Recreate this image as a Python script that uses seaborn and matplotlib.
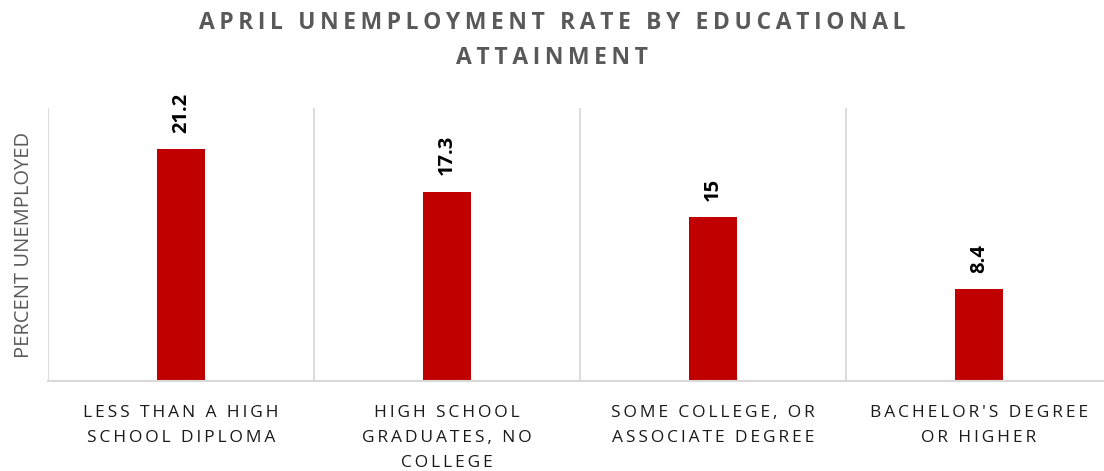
import matplotlib
matplotlib.use("Agg")
import matplotlib.pyplot as plt
import seaborn as sns
import pandas as pd

categories = [
    "LESS THAN A HIGH\nSCHOOL DIPLOMA",
    "HIGH SCHOOL\nGRADUATES, NO\nCOLLEGE",
    "SOME COLLEGE, OR\nASSOCIATE DEGREE",
    "BACHELOR'S DEGREE\nOR HIGHER",
]
values = [21.2, 17.3, 15, 8.4]
value_labels = ["21.2", "17.3", "15", "8.4"]
title = "APRIL UNEMPLOYMENT RATE BY EDUCATIONAL\nATTAINMENT"
ylabel = "PERCENT UNEMPLOYED"

sns.set_theme(style="white")
plt.rcParams["font.family"] = ["Open Sans", "DejaVu Sans"]


def tracked(s, sep="\u2009"):
    # emulate letter spacing with thin spaces between characters
    return "\n".join(sep.join(line) for line in s.split("\n"))


df = pd.DataFrame({"cat": categories, "val": values})

fig = plt.figure(figsize=(11.04, 4.71), dpi=100)
ax = fig.add_axes([48 / 1104, 1 - 381 / 471, 1 - 48 / 1104, (381 - 108) / 471])

sns.barplot(data=df, x="cat", y="val", color="#C00000", width=0.184, ax=ax,
            saturation=1, edgecolor="none")

ax.set_ylim(0, 25)
ax.set_xlim(-0.5, -0.5 + 1056 / 266)
ax.set_yticks([])
ax.set_xlabel("")
ax.set_ylabel(ylabel, color="#595959", fontsize=14.5, labelpad=10)

for s in ["top", "right", "left"]:
    ax.spines[s].set_visible(False)
ax.spines["bottom"].set_color("#D9D9D9")
ax.spines["bottom"].set_linewidth(1.5)

for b in [-0.5, 0.5, 1.5, 2.5]:
    ax.axvline(b, color="#D9D9D9", lw=1.3, zorder=0)

ax.tick_params(axis="x", length=0, pad=17)
ax.set_xticks(range(len(categories)))
ax.set_xticklabels([tracked(c) for c in categories], fontsize=12.5,
                   color="#1a1a1a", linespacing=1.75)

for i, (v, lab) in enumerate(zip(values, value_labels)):
    ax.annotate(lab, xy=(i, v), xytext=(0, 12), textcoords="offset points",
                rotation=90, ha="center", va="bottom", fontsize=14.5,
                fontweight="bold", color="black")

fig.text(0.5, 1 - 11 / 471, tracked(title), ha="center", va="top",
         fontsize=16.5, fontweight="bold", color="#595959", linespacing=1.6)

fig.savefig("out.png", dpi=100)
